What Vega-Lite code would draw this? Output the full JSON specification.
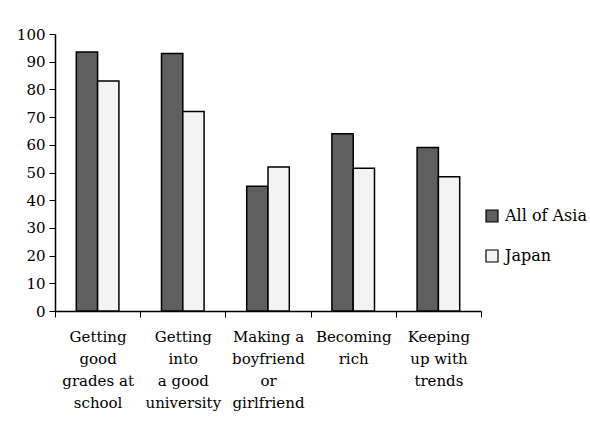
{
  "$schema": "https://vega.github.io/schema/vega-lite/v6.json",
  "width": 426,
  "height": 277,
  "autosize": "none",
  "padding": {"left": 55, "top": 34, "right": 109, "bottom": 110},
  "background": "white",
  "config": {
    "view": {"stroke": null},
    "font": "DejaVu Serif"
  },
  "data": {
    "values": [
      {"item": "Getting good grades at school", "region": "All of Asia", "value": 93.5},
      {"item": "Getting good grades at school", "region": "Japan", "value": 83},
      {"item": "Getting into a good university", "region": "All of Asia", "value": 93},
      {"item": "Getting into a good university", "region": "Japan", "value": 72},
      {"item": "Making a boyfriend or girlfriend", "region": "All of Asia", "value": 45},
      {"item": "Making a boyfriend or girlfriend", "region": "Japan", "value": 52},
      {"item": "Becoming rich", "region": "All of Asia", "value": 64},
      {"item": "Becoming rich", "region": "Japan", "value": 51.5},
      {"item": "Keeping up with trends", "region": "All of Asia", "value": 59},
      {"item": "Keeping up with trends", "region": "Japan", "value": 48.5}
    ]
  },
  "mark": {"type": "bar", "stroke": "black", "strokeWidth": 1.5},
  "encoding": {
    "x": {
      "field": "item",
      "type": "nominal",
      "sort": null,
      "scale": {"paddingInner": 0, "paddingOuter": 0},
      "axis": {
        "title": null,
        "labelAngle": 0,
        "labelFontSize": 15,
        "labelColor": "black",
        "labelLineHeight": 22,
        "labelPadding": 12,
        "labelBaseline": "top",
        "tickBand": "extent",
        "tickColor": "black",
        "tickSize": 6,
        "domainColor": "black",
        "domainWidth": 1.5,
        "labelExpr": "datum.value == 'Getting good grades at school' ? ['Getting','good','grades at','school'] : datum.value == 'Getting into a good university' ? ['Getting','into','a good','university'] : datum.value == 'Making a boyfriend or girlfriend' ? ['Making a','boyfriend','or','girlfriend'] : datum.value == 'Becoming rich' ? ['Becoming','rich'] : datum.value == 'Keeping up with trends' ? ['Keeping','up with','trends'] : ''"
      }
    },
    "xOffset": {
      "field": "region",
      "type": "nominal",
      "scale": {"paddingInner": 0, "paddingOuter": 1.08}
    },
    "y": {
      "field": "value",
      "type": "quantitative",
      "scale": {"domain": [0, 100], "nice": false},
      "axis": {
        "title": null,
        "values": [0, 10, 20, 30, 40, 50, 60, 70, 80, 90, 100],
        "grid": false,
        "labelFontSize": 15,
        "labelColor": "black",
        "labelPadding": 4,
        "tickColor": "black",
        "tickSize": 6,
        "domainColor": "black",
        "domainWidth": 1.5
      }
    },
    "fill": {
      "field": "region",
      "type": "nominal",
      "scale": {"domain": ["All of Asia", "Japan"], "range": ["#5f5f5f", "#f3f3f3"]},
      "legend": {
        "title": null,
        "orient": "none",
        "legendX": 429,
        "legendY": 174,
        "symbolType": "square",
        "symbolSize": 144,
        "symbolStrokeColor": "black",
        "symbolStrokeWidth": 1.2,
        "labelFontSize": 16,
        "labelColor": "black",
        "labelOffset": 5,
        "rowPadding": 22
      }
    }
  }
}
